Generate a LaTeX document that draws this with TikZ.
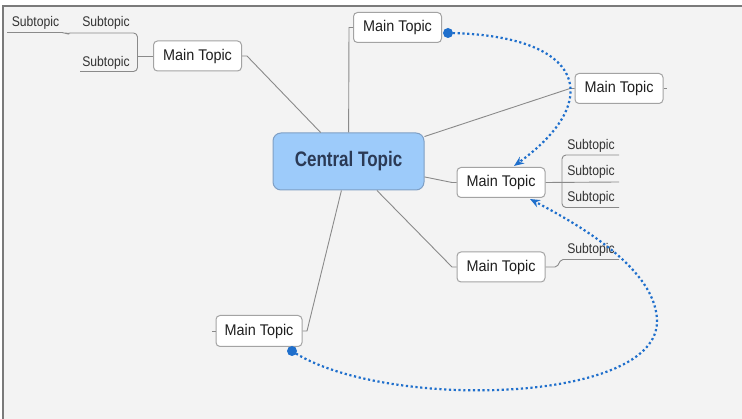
\documentclass[tikz,border=0pt]{standalone}
\usepackage{fontspec}
\setmainfont{Liberation Sans}
\newfontfamily\mtfont{Liberation Sans}[FakeStretch=0.93]
\newfontfamily\subfont{Liberation Sans}[FakeStretch=0.87]
\newfontfamily\centfont{Liberation Sans}[FakeStretch=0.81]
\usetikzlibrary{arrows.meta}
\definecolor{bggray}{HTML}{F3F3F3}
\definecolor{bordergray}{HTML}{7A7A7A}
\definecolor{boxgray}{HTML}{A3A3A3}
\definecolor{conngray}{HTML}{8A8A8A}
\definecolor{ctfill}{HTML}{9DCBFA}
\definecolor{ctdraw}{HTML}{7F9FC4}
\definecolor{cttext}{HTML}{2B3A55}
\definecolor{relblue}{HTML}{1F6FCC}
\begin{document}
\begin{tikzpicture}[x=1pt,y=-1pt,
  mt/.style={draw=boxgray, fill=white, line width=1pt, rounded corners=4pt,
    minimum width=88pt, minimum height=30pt, inner sep=0pt,
    font=\mtfont\fontsize{15.5}{17}\selectfont, text=black!88},
  ctbox/.style={draw=ctdraw, fill=ctfill, line width=1pt, rounded corners=8pt,
    minimum width=151pt, minimum height=57pt, inner sep=0pt,
    font=\centfont\bfseries\fontsize{21}{23}\selectfont, text=cttext},
  st/.style={inner sep=0pt, font=\subfont\fontsize{14}{16}\selectfont, text=black!80},
  conn/.style={draw=conngray, line width=0.9pt},
  rel/.style={draw=relblue, line width=2.2pt, dash pattern=on 2.2pt off 2.6pt},
  reltip/.style={-{Stealth[length=10pt,width=8pt]}},
  reldot/.style={fill=relblue, circle, inner sep=0pt, minimum size=10pt}
]
\useasboundingbox (0,0) rectangle (742,419);
\fill[white] (0,0) rectangle (742,419);
\fill[bggray] (3,6) rectangle (742,419);
\draw[bordergray, line width=1.3pt] (3,419) -- (3,6) -- (742,6);

% nodes
\node[ctbox] (ct) at (348.5,161.5) {Central Topic};
\node[mt] (mt1) at (197.5,56) {Main Topic};
\node[mt] (mt2) at (397.5,27.5) {Main Topic};
\node[mt] (mt3) at (619,88.5) {Main Topic};
\node[mt] (mt4) at (501,182.5) {Main Topic};
\node[mt] (mt5) at (501,267) {Main Topic};
\node[mt,minimum width=86pt,minimum height=31pt] (mt6) at (259,331) {Main Topic};

% junction coordinates
\coordinate (j1) at (247,56);
\coordinate (j2) at (349,27.5);
\coordinate (j3) at (570,88.5);
\coordinate (j4) at (452,182.5);
\coordinate (j5) at (452,267);
\coordinate (j6) at (307,331);
\coordinate (e3) at (667,88.5);
\coordinate (e6) at (212,331);

% connectors
\draw[conn] (ct) -- (j1) -- (mt1.east);
\draw[conn] (ct) -- (j2) -- (mt2.west);
\draw[conn] (ct) -- (j3) -- (mt3.west);
\draw[conn] (ct) -- (j4) -- (mt4.west);
\draw[conn] (ct) -- (j5) -- (mt5.west);
\draw[conn] (ct) -- (j6) -- (mt6.east);
\draw[conn] (mt3.east) -- (e3);
\draw[conn] (mt6.west) -- (e6);

% subtopics of top-left main topic
\node[st] (s0) at (35.5,23) {Subtopic};
\node[st] (s1) at (106,23) {Subtopic};
\node[st] (s2) at (106,62.5) {Subtopic};
\coordinate (b1) at (137.5,56);
\draw[conn] (mt1.west) -- (b1);
\draw[conn, rounded corners=4pt] (80,71.5) -- (137.5,71.5) -- (137.5,33) -- (70,33);
\draw[conn, rounded corners=2pt] (70,33) -- (67,34) -- (64,32.5) -- (7,32.5);

% subtopics of middle-right main topic
\node[st] (s3) at (591,145.7) {Subtopic};
\node[st] (s4) at (591,172.3) {Subtopic};
\node[st] (s5) at (591,198.3) {Subtopic};
\draw[conn, rounded corners=4pt] (619,155) -- (562,155) -- (562,207.5) -- (619,207.5);
\draw[conn] (mt4.east) -- (619,182);

% subtopic of lower-right main topic
\node[st] (s6) at (591,250) {Subtopic};
\draw[conn, rounded corners=2pt] (mt5.east) -- (557,267) -- (561,259.5) -- (619,259.5);

% relationships
\node[reldot] (d1) at (448,33) {};
\node[reldot] (d2) at (292,351) {};
\coordinate (a1) at (514,166);
\coordinate (a2) at (530,199);
\draw[rel, reltip] (d1.center) .. controls (585,35) and (605,100) .. (a1);
\draw[rel, reltip] (d2.center) .. controls (380,410) and (660,405) .. (657,320)
   .. controls (655,270) and (585,228) .. (a2);
\end{tikzpicture}
\end{document}
